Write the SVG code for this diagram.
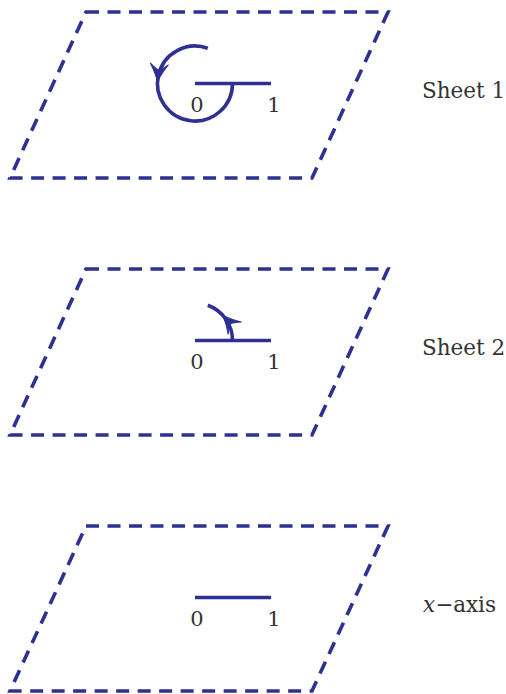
<svg xmlns="http://www.w3.org/2000/svg" width="506" height="694" viewBox="0 0 506 694">
<style>
.sheet{fill:none;stroke:#2e3192;stroke-width:3.6;stroke-dasharray:13 8.5;stroke-linejoin:miter}
.seg{stroke:#2e3192;stroke-width:3.6;fill:none}
.arc{stroke:#2e3192;stroke-width:3.6;fill:none}
text{font-family:"DejaVu Serif","Liberation Serif",serif;fill:#333}
.lab{font-size:21px}
.big{font-size:21.5px}
.head{fill:#2e3192;stroke:#2e3192;stroke-width:1;stroke-linejoin:round}
</style>
<defs>
<path id="ah" class="head" d="M 0 0 Q -8 -2.5 -18 -9 Q -13 -3 -12 0 Q -13 3 -18 9 Q -8 2.5 0 0 Z"/>
</defs>
<g id="sheet1">
<path class="sheet" d="M 86 12 L 388 12 L 312 178 L 10 178 Z"/>
<line class="seg" x1="195" y1="83.5" x2="271" y2="83.5"/>
<text class="lab" x="197" y="112" text-anchor="middle">0</text>
<text class="lab" x="274" y="112" text-anchor="middle">1</text>
<text class="big" x="422" y="98">Sheet 1</text>
</g>
<g id="sheet2">
<path class="sheet" d="M 86 269 L 388 269 L 312 435 L 10 435 Z"/>
<line class="seg" x1="195" y1="340.5" x2="271" y2="340.5"/>
<text class="lab" x="197" y="369" text-anchor="middle">0</text>
<text class="lab" x="274" y="369" text-anchor="middle">1</text>
<text class="big" x="422" y="355">Sheet 2</text>
</g>
<g id="xaxis">
<path class="sheet" d="M 86 526 L 388 526 L 312 691 L 10 691 Z"/>
<line class="seg" x1="195" y1="597.5" x2="271" y2="597.5"/>
<text class="lab" x="197" y="626" text-anchor="middle">0</text>
<text class="lab" x="274" y="626" text-anchor="middle">1</text>
<text class="big" x="423" y="612"><tspan font-style="italic">x</tspan>−axis</text>
</g>
<g id="connectors">
<path class="arc" d="M 207.8 48.3 A 37.5 37.5 0 1 0 232.5 83.5"/>
<use href="#ah" transform="translate(157.5 82) rotate(96)"/>
<path class="arc" d="M 232.5 340.5 A 37.5 37.5 0 0 0 207.8 305.3"/>
<use href="#ah" transform="translate(222.4 314.9) rotate(227)"/>
</g>
</svg>
